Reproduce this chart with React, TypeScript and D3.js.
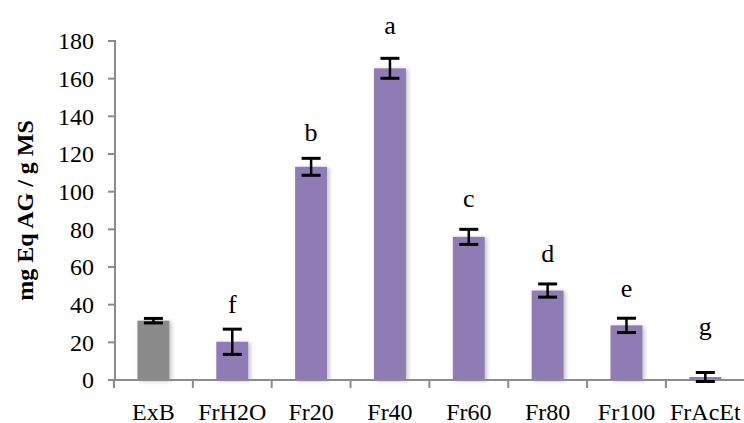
import React from "react";
import * as d3 from "d3";

const categories = ["ExB", "FrH2O", "Fr20", "Fr40", "Fr60", "Fr80", "Fr100", "FrAcEt"];
const values = [31.5, 20.3, 113.2, 165.5, 76.0, 47.5, 29.0, 1.6];
const errors = [1.2, 6.7, 4.5, 5.3, 4.0, 3.5, 3.8, 2.4];
const letters = ["", "f", "b", "a", "c", "d", "e", "g"];
const letterY = [0, 35.6, 127, 183.7, 91.9, 62.7, 44.1, 23.9];
const barColors = ["#8a8a8a", "#8f7bb4", "#8f7bb4", "#8f7bb4", "#8f7bb4", "#8f7bb4", "#8f7bb4", "#8f7bb4"];
const yTicks = [0, 20, 40, 60, 80, 100, 120, 140, 160, 180];

const W = 744;
const H = 423;
const left = 115;
const right = 744;
const top = 41;
const bottom = 380;

export default function App() {
  const x = d3.scaleBand<string>().domain(categories).range([114, 744 + 0.75]);
  const y = d3.scaleLinear().domain([0, 180]).range([bottom, top]);
  const bw = x.bandwidth();
  const barW = bw * 0.405;
  const font = "Liberation Serif, Times New Roman, serif";
  const axisColor = "#8c8c8c";
  const ts = { fontFamily: font };

  return (
    <svg
      width={W}
      height={H}
      style={{ position: "absolute", left: 0, top: 0, background: "#fff", fontFamily: font }}
    >
      <defs>
        <filter id="sh" x="-30%" y="-10%" width="160%" height="120%">
          <feGaussianBlur in="SourceAlpha" stdDeviation="2" />
          <feOffset dx="2" dy="1" result="b" />
          <feComponentTransfer>
            <feFuncA type="linear" slope="0.25" />
          </feComponentTransfer>
          <feMerge>
            <feMergeNode />
            <feMergeNode in="SourceGraphic" />
          </feMerge>
        </filter>
      </defs>
      <rect x={0} y={0} width={W} height={H} fill="#fff" />

      {categories.map((c, i) => {
        const cx = (x(c) as number) + bw / 2;
        return (
          <rect
            key={c}
            x={cx - barW / 2}
            y={y(values[i])}
            width={barW}
            height={bottom - y(values[i])}
            fill={barColors[i]}
            filter="url(#sh)"
          />
        );
      })}

      <line x1={left} x2={left} y1={top - 1} y2={bottom} stroke={axisColor} strokeWidth={2} />
      {yTicks.map((t) => (
        <g key={t}>
          <line x1={left - 7} x2={left} y1={y(t)} y2={y(t)} stroke={axisColor} strokeWidth={2} />
          <text x={94} y={y(t)} dy="0.35em" textAnchor="end" fontSize={24} fill="#000" style={ts}>
            {t}
          </text>
        </g>
      ))}

      <line x1={left - 1} x2={right} y1={bottom} y2={bottom} stroke={axisColor} strokeWidth={2} />
      {categories.map((c) => (
        <line
          key={"t" + c}
          x1={x(c) as number}
          x2={x(c) as number}
          y1={bottom}
          y2={bottom + 8}
          stroke={axisColor}
          strokeWidth={2}
        />
      ))}
      {categories.map((c) => (
        <text
          key={"l" + c}
          x={(x(c) as number) + bw / 2}
          y={420}
          textAnchor="middle"
          fontSize={24}
          fill="#000"
          style={ts}
        >
          {c}
        </text>
      ))}

      {categories.map((c, i) => {
        const cx = (x(c) as number) + bw / 2;
        const y1 = y(values[i] + errors[i]);
        const y2 = y(values[i] - errors[i]);
        const cw = 9.5;
        return (
          <g key={"e" + c} stroke="#000" strokeWidth={3}>
            <line x1={cx} x2={cx} y1={y1} y2={y2} strokeWidth={2.5} />
            <line x1={cx - cw} x2={cx + cw} y1={y1} y2={y1} />
            <line x1={cx - cw} x2={cx + cw} y1={y2} y2={y2} />
          </g>
        );
      })}

      {categories.map((c, i) =>
        letters[i] ? (
          <text
            key={"s" + c}
            x={(x(c) as number) + bw / 2}
            y={y(letterY[i])}
            textAnchor="middle"
            fontSize={26}
            fill="#000"
            style={ts}
          >
            {letters[i]}
          </text>
        ) : null
      )}

      <text
        transform={`translate(33, ${(top + bottom) / 2}) rotate(-90)`}
        textAnchor="middle"
        fontSize={24}
        fontWeight="bold"
        fill="#000"
        style={ts}
      >
        mg Eq AG / g MS
      </text>
    </svg>
  );
}
